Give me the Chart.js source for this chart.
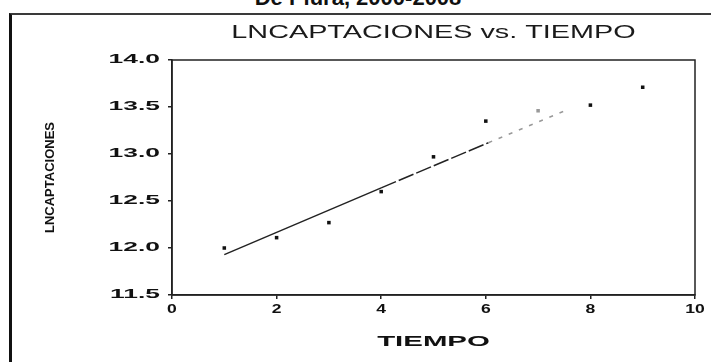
<!DOCTYPE html>
<html>
<head>
<meta charset="utf-8">
<script src="https://cdn.jsdelivr.net/npm/chart.js@4/dist/chart.umd.min.js"></script>
<style>
    html, body { margin: 0; padding: 0; background: #fff; }
    #wrap { position: relative; width: 711px; height: 362px; overflow: hidden; }
    #heading {
        position: absolute; left: 0; width: 716px; top: -13px;
        text-align: center; font: bold 22px 'Liberation Sans', Arial, sans-serif;
        line-height: 22px; color: #111;
    }
    #frame {
        position: absolute; left: 9px; top: 13px; right: -5px; bottom: -5px;
        border-top: 2px solid #3a3a3a; border-left: 3px solid #111;
    }
    canvas { position: absolute; left: 0; top: 0; }
</style>
</head>
<body>
<div id="wrap">
    <div id="heading">De Piura, 2000-2008</div>
    <div id="frame"></div>
    <canvas id="chart_f" width="711" height="362"></canvas>
</div>
<script>
// observaciones (TIEMPO = 1..9)
const tiempo = [1, 2, 3, 4, 5, 6, 7, 8, 9]
const lnCaptaciones = [12.00, 12.11, 12.27, 12.60, 12.97, 13.35, 13.46, 13.52, 13.71]

// recta ajustada
const fitX = [1, 4, 6.05, 7.6]
const fitY = [11.93, 12.64, 13.12, 13.48]

const yTicks = [11.5, 12.0, 12.5, 13.0, 13.5, 14.0]
const xTicks = [0, 2, 4, 6, 8, 10]

// the scanned text is very wide, stretch it horizontally by font size
const stretchBySize = { 12: 2.2, 13: 1.35, 14: 2.1, 18: 1.6 }

const stretchText = {
    id: 'stretchText',
    beforeDraw(chart) {
        const ctx = chart.ctx
        if (ctx._stretched) return
        const fill = ctx.fillText.bind(ctx)
        ctx.fillText = (text, x, y, maxW) => {
            const m = ctx.getTransform()
            const size = parseFloat((ctx.font.match(/([\d.]+)px/) || [])[1])
            const sx = stretchBySize[size]
            if (m.b !== 0 || !sx) return fill(text, x, y, maxW)
            ctx.save()
            ctx.translate(x, y)
            ctx.scale(sx, 1)
            fill(text, 0, 0)
            ctx.restore()
        }
        ctx._stretched = true
    }
}

const plotBox = {
    id: 'plotBox',
    afterDraw(chart) {
        const { ctx, chartArea: a } = chart
        ctx.save()
        ctx.strokeStyle = '#222'
        ctx.lineWidth = 1.5
        ctx.strokeRect(a.left, a.top, a.right - a.left, a.bottom - a.top)
        ctx.restore()
    }
}

const ctx = document.getElementById('chart_f').getContext('2d')
const myChart = new Chart(ctx, {
    type: 'scatter',
    data: {
        datasets: [{
            label: 'LNCAPTACIONES',
            data: tiempo.map((t, i) => ({ x: t, y: lnCaptaciones[i] })),
            pointStyle: 'rect',
            pointRadius: 2.5,
            pointBackgroundColor: c => c.dataIndex === 6 ? '#999' : '#111',
            pointBorderWidth: 0,
            showLine: false
        }, {
            label: 'ajuste',
            data: fitX.map((t, i) => ({ x: t, y: fitY[i] })),
            showLine: true,
            pointRadius: 0,
            borderColor: '#222',
            borderWidth: 1.5,
            segment: {
                borderDash: c => c.p0DataIndex === 0 ? [] : c.p0DataIndex === 1 ? [16, 3] : [4, 7],
                borderColor: c => c.p0DataIndex === 2 ? '#999' : '#222'
            }
        }]
    },
    options: {
        responsive: false,
        animation: false,
        devicePixelRatio: 1,
        layout: { padding: { left: 12, right: 16, top: 0, bottom: 0 } },
        plugins: {
            legend: { display: false },
            tooltip: { enabled: false },
            title: {
                display: true,
                fullSize: false,
                text: 'LNCAPTACIONES vs. TIEMPO',
                color: '#1a1a1a',
                font: { family: 'Liberation Sans', size: 18, weight: 'normal' },
                padding: { top: 22, bottom: 16.4 }
            }
        },
        scales: {
            x: {
                type: 'linear',
                min: 0,
                max: 10,
                afterBuildTicks: s => { s.ticks = xTicks.map(v => ({ value: v })) },
                afterFit: s => { s.height = 67 },
                grid: { drawOnChartArea: false, tickLength: 4, color: '#222', lineWidth: 1.5 },
                border: { color: '#222', width: 1.5 },
                ticks: {
                    color: '#111',
                    padding: 3,
                    maxRotation: 0,
                    font: { family: 'Liberation Sans', size: 13, weight: 'bold' }
                },
                title: {
                    display: true,
                    text: 'TIEMPO',
                    color: '#111',
                    font: { family: 'Liberation Sans', size: 14, weight: 'bold' },
                    padding: { top: 0, bottom: 11 }
                }
            },
            y: {
                min: 11.5,
                max: 14,
                afterBuildTicks: s => { s.ticks = yTicks.map(v => ({ value: v })) },
                afterFit: s => { s.width = 160 },
                grid: { drawOnChartArea: false, tickLength: 4, color: '#222', lineWidth: 1.5 },
                border: { color: '#222', width: 1.5 },
                ticks: {
                    color: '#111',
                    padding: 8,
                    callback: v => v.toFixed(1),
                    font: { family: 'Liberation Sans', size: 12, weight: 'bold' }
                },
                title: {
                    display: true,
                    text: 'LNCAPTACIONES',
                    color: '#111',
                    font: { family: 'Liberation Sans', size: 13, weight: 'bold' },
                    padding: { top: 31, bottom: 0 }
                }
            }
        }
    },
    plugins: [stretchText, plotBox]
})
</script>
</body>
</html>
